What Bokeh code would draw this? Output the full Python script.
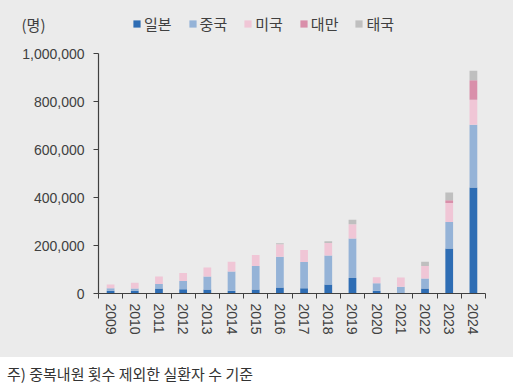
from bokeh.plotting import figure
from bokeh.models import ColumnDataSource, FixedTicker, NumeralTickFormatter, Div, Range1d, Legend, LinearAxis
from bokeh.layouts import column
from bokeh.embed import file_html
from bokeh.resources import INLINE

years = [2009, 2010, 2011, 2012, 2013, 2014, 2015, 2016, 2017, 2018, 2019, 2020, 2021, 2022, 2023, 2024]
japan = [11000, 11000, 21000, 18000, 17000, 11000, 17000, 25000, 22000, 38000, 65000, 11000, 2000, 21000, 188000, 442000]
china = [11000, 10000, 19000, 34000, 54000, 81000, 98000, 128000, 109000, 120000, 164000, 32000, 26000, 41000, 110000, 261000]
usa = [15000, 24000, 31000, 33000, 37000, 40000, 45000, 52000, 50000, 52000, 60000, 25000, 39000, 53000, 79000, 104000]
taiwan = [0, 0, 0, 0, 0, 0, 0, 0, 0, 0, 0, 0, 0, 0, 12000, 82000]
thailand = [0, 0, 0, 0, 0, 0, 0, 4000, 0, 8000, 18000, 0, 0, 17000, 32000, 39000]
series_names = ["일본", "중국", "미국", "대만", "태국"]
y_ticks = [0, 200000, 400000, 600000, 800000, 1000000]
y_max = 1000000
unit_label = "(명)"
note_text = "주) 중복내원 횟수 제외한 실환자 수 기준"

colors = ["#2E6DB4", "#95B3D7", "#F0C6D6", "#D98FAA", "#BFBFBF"]
keys = ["japan", "china", "usa", "taiwan", "thailand"]
source = ColumnDataSource(dict(year=years, japan=japan, china=china, usa=usa,
                               taiwan=taiwan, thailand=thailand))

BG = "#EBEBEB"
TXT = "#404040"
FONT = "Noto Sans CJK KR"

# frame: x 98..485, y 4..293 (1,000,000 at y=53, 240 px per 1,000,000)
FRAME_TOP, ZERO_Y, PX_PER_M = 4, 293, 240
y_top = y_max * (ZERO_Y - FRAME_TOP) / PX_PER_M
unit_pos = y_max * (ZERO_Y - 24) / PX_PER_M

p = figure(width=513, height=357, output_backend="svg", toolbar_location=None,
           x_range=Range1d(years[0] - 0.5, years[-1] + 0.5),
           y_range=Range1d(0, y_top),
           min_border_left=98, min_border_right=28, min_border_top=FRAME_TOP, min_border_bottom=64)
p.background_fill_color = BG
p.border_fill_color = BG
p.styles = {"background-color": BG}
p.outline_line_color = None
p.xgrid.grid_line_color = None
p.ygrid.grid_line_color = None

rs = p.vbar_stack(keys, x="year", width=0.32, color=colors, line_color=None, source=source)

# x axis
xa = p.xaxis[0]
xa.ticker = FixedTicker(ticks=years, minor_ticks=[y - 0.5 for y in years] + [years[-1] + 0.5])
xa.major_tick_line_color = None
xa.major_tick_out = 5
xa.major_tick_in = 0
xa.minor_tick_out = 5
xa.minor_tick_in = 0
xa.minor_tick_line_color = TXT
xa.axis_line_color = TXT
xa.axis_line_width = 1.2
xa.major_label_orientation = "vertical"
xa.major_label_standoff = 5
xa.major_label_text_font = "Liberation Sans"
xa.major_label_text_font_size = "14px"
xa.major_label_text_color = TXT

# y axis
ya = p.yaxis[0]
ya.ticker = FixedTicker(ticks=y_ticks)
ya.bounds = (0, y_max)
ya.formatter = NumeralTickFormatter(format="0,0")
ya.major_tick_out = 5
ya.major_tick_in = 0
ya.minor_tick_line_color = None
ya.major_tick_line_color = TXT
ya.axis_line_color = TXT
ya.axis_line_width = 1.2
ya.major_label_standoff = 9
ya.major_label_text_font = "Liberation Sans"
ya.major_label_text_font_size = "14px"
ya.major_label_text_color = TXT

# unit label "(명)" as a bare secondary left axis
ua = LinearAxis(ticker=FixedTicker(ticks=[unit_pos]),
                major_label_overrides={unit_pos: unit_label})
ua.axis_line_color = None
ua.major_tick_line_color = None
ua.minor_tick_line_color = None
ua.major_tick_out = 0
ua.major_tick_in = 0
ua.major_label_standoff = -26
ua.major_label_text_font = FONT
ua.major_label_text_font_size = "15px"
ua.major_label_text_color = TXT
p.add_layout(ua, "left")

# legend inside the (extended) frame, on the top row
lg = Legend(items=[(n, [r]) for n, r in zip(series_names, rs)])
lg.orientation = "horizontal"
lg.location = (34, 259)
lg.background_fill_alpha = 0
lg.border_line_color = None
lg.padding = 0
lg.margin = 0
lg.spacing = 16
lg.glyph_width = 9
lg.glyph_height = 9
lg.label_standoff = 3
lg.label_text_font = FONT
lg.label_text_font_size = "15px"
lg.label_text_color = TXT
lg.label_height = 16
p.add_layout(lg, "center")

note = Div(text=note_text, width=513, height=30,
           styles={"font-family": FONT, "font-size": "15px", "line-height": "18px",
                   "color": "#333333", "background-color": "white",
                   "padding-top": "3px", "padding-left": "2px", "box-sizing": "border-box",
                   "overflow": "hidden", "white-space": "nowrap"})

layout = column(p, note, spacing=0)

open("out.html", "w").write(file_html(layout, INLINE))
